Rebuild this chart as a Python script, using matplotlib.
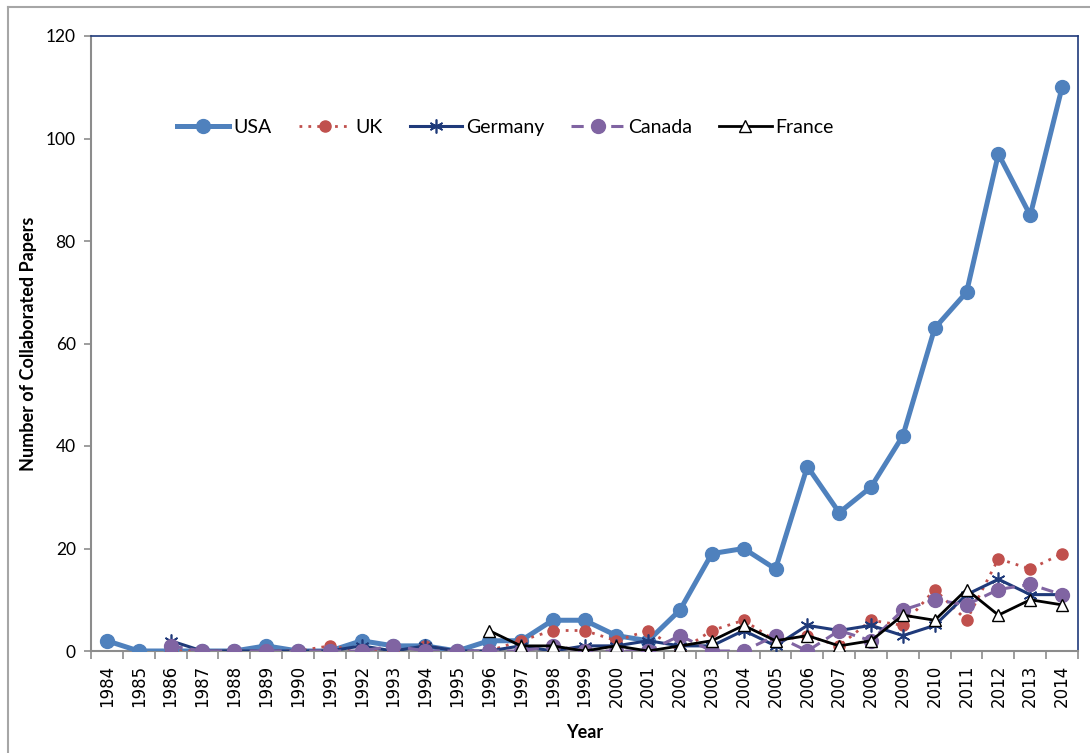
import numpy as np
import matplotlib
matplotlib.use("Agg")
import matplotlib.pyplot as plt
from matplotlib.lines import Line2D

nan = np.nan

years = list(range(1984, 2015))

# values (nan = series not yet started)
usa = [2, 0, 0, 0, 0, 1, 0, 0, 2, 1, 1, 0, 2, 2, 6, 6, 3, 2, 8, 19,
       20, 16, 36, 27, 32, 42, 63, 70, 97, 85, 110]
uk = [nan, nan, 0, 0, 0, 0, 0, 1, 0, 0, 1, 0, 0, 2, 4, 4, 2, 4, 0, 4,
      6, 2, 3, 1, 6, 5, 12, 6, 18, 16, 19]
germany = [nan, nan, 2, 0, 0, 0, 0, 0, 1, 0, 1, 0, 0, 1, 0, 1, 1, 2, 1, 1,
           4, 1, 5, 4, 5, 3, 5, 11, 14, 11, 11]
canada = [nan, nan, 1, 0, 0, 0, 0, 0, 0, 1, 0, 0, 0, 0, 1, 0, 0, 0, 3, 0,
          0, 3, 0, 4, 2, 8, 10, 9, 12, 13, 11]
france = [nan] * 12 + [4, 1, 1, 0, 1, 0, 1, 2, 5, 2, 3, 1, 2, 7, 6, 12, 7, 10, 9]

y_ticks = [0, 20, 40, 60, 80, 100, 120]

fig = plt.figure(figsize=(10.9, 7.53), dpi=100)
ax = fig.add_axes([91 / 1090, 1 - 651 / 753, 987 / 1090, 615 / 753])

x = np.arange(len(years))

# series styles, Excel-like
ax.plot(x, usa, color='#4F81BD', lw=3.6, marker='o', ms=10,
        label='USA', zorder=3)
ax.plot(x, uk, color='#C0504D', lw=2, ls=(0, (1, 2.2)), marker='o', ms=8,
        label='UK', zorder=4)
ax.plot(x, germany, color='#1F3A7A', lw=2.2, marker=(6, 2, 0), ms=10,
        mew=1.2, label='Germany', zorder=5)
ax.plot(x, canada, color='#8064A2', lw=2.2, ls=(0, (4, 2.5)), marker='o',
        ms=10, label='Canada', zorder=6)
ax.plot(x, france, color='black', lw=2, marker='^', ms=9, mfc='white',
        mec='black', mew=1, label='France', zorder=7)

ax.set_xlim(-0.5, len(years) - 0.5)
ax.set_ylim(0, 120)
ax.set_yticks(y_ticks)
ax.set_yticklabels([str(v) for v in y_ticks], fontsize=12.5, family='Lato')

# ticks between categories, labels at categories
ax.set_xticks(np.arange(-0.5, len(years), 1.0))
ax.set_xticklabels([])
ax.set_xticks(x, minor=True)
ax.set_xticklabels([str(y) for y in years], minor=True, rotation=90,
                   fontsize=12, family='DejaVu Sans')
ax.tick_params(axis='x', which='minor', length=0, pad=10)
ax.tick_params(axis='x', which='major', length=6, color='#8C8C8C', width=1.2)
ax.tick_params(axis='y', length=5, color='#8C8C8C', width=1.2, pad=6)

for side in ['left', 'bottom']:
    ax.spines[side].set_color('#8C8C8C')
    ax.spines[side].set_linewidth(1.5)
for side in ['top', 'right']:
    ax.spines[side].set_color('#1F3A7A')
    ax.spines[side].set_linewidth(1.2)

ax.set_xlabel('Year', fontsize=13, fontweight='bold', family='Lato',
              labelpad=12)
ax.set_ylabel('Number of Collaborated Papers', fontsize=13, fontweight='bold',
              family='Lato', labelpad=6)

leg = ax.legend(loc='center left', bbox_to_anchor=(0.087, 0.852), ncol=5,
                frameon=False, borderpad=0, borderaxespad=0,
                handlelength=2.7, handletextpad=0.2, columnspacing=1.4,
                prop={'family': 'Lato', 'size': 14})

# outer chart border (only top/left are visible in the reference)
fig.add_artist(Line2D([8 / 1090, 8 / 1090], [0, 1 - 7 / 753],
                      transform=fig.transFigure, color='#A6A6A6', lw=1.5))
fig.add_artist(Line2D([8 / 1090, 1], [1 - 7 / 753, 1 - 7 / 753],
                      transform=fig.transFigure, color='#A6A6A6', lw=1.5))

fig.savefig('out.png', dpi=100)
